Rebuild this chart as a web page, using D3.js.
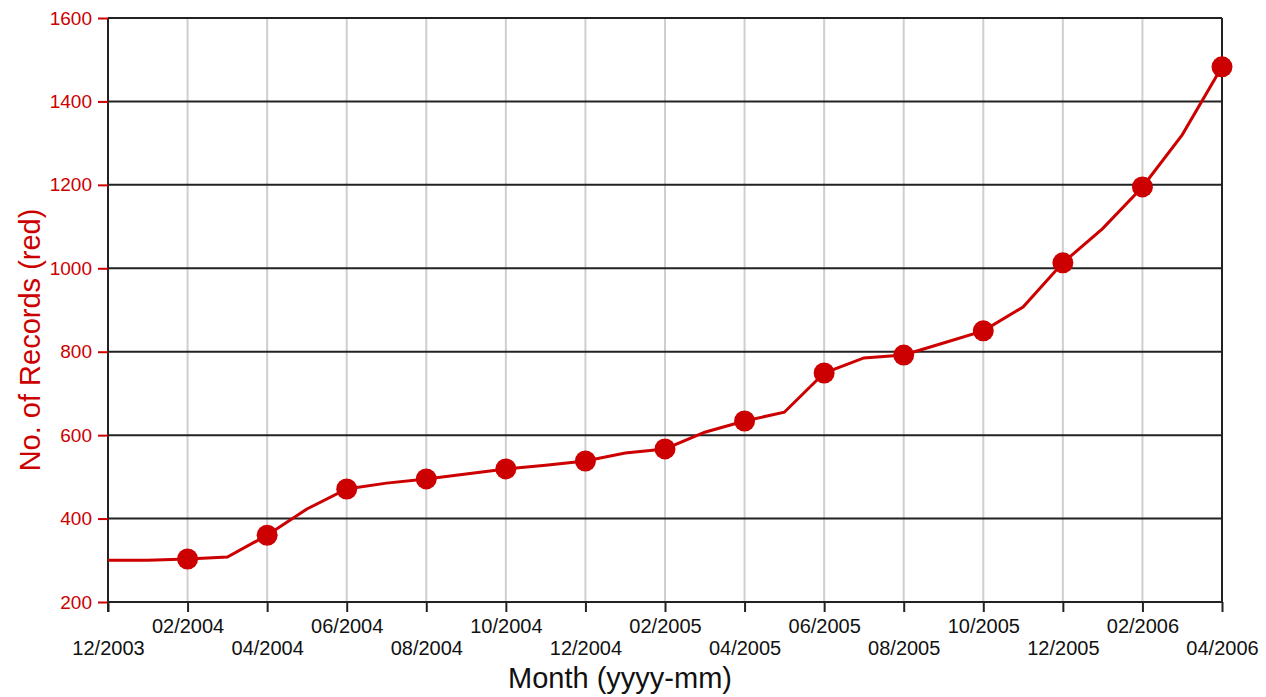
<!DOCTYPE html>
<html><head><meta charset="utf-8">
<script src="https://cdn.jsdelivr.net/npm/d3@7"></script>
<style>
html,body{margin:0;padding:0;background:#fff;}
svg{display:block;font-family:"Liberation Sans",Arial,sans-serif;}
</style></head>
<body><svg id="c" width="1266" height="697"></svg>
<script>
const months = ["12/2003","01/2004","02/2004","03/2004","04/2004","05/2004","06/2004","07/2004","08/2004","09/2004","10/2004","11/2004","12/2004","01/2005","02/2005","03/2005","04/2005","05/2005","06/2005","07/2005","08/2005","09/2005","10/2005","11/2005","12/2005","01/2006","02/2006","03/2006","04/2006"];
const records = [300,300,303,308,360,423,471,485,495,507,519,528,538,557,567,607,634,655,749,785,792,821,850,907,1013,1095,1195,1320,1483];
const yTicks = [200,400,600,800,1000,1200,1400,1600];
const xTickLabels = ["12/2003","02/2004","04/2004","06/2004","08/2004","10/2004","12/2004","02/2005","04/2005","06/2005","08/2005","10/2005","12/2005","02/2006","04/2006"];

const red = "#cc0000";
const L = 108, R = 1222, T = 18, B = 602;
const svg = d3.select("#c");
const x = d3.scaleLinear().domain([0, months.length - 1]).range([L, R]);
const y = d3.scaleLinear().domain([200, 1600]).range([B, T]);
const tickIdx = xTickLabels.map(l => months.indexOf(l));

// vertical grid
svg.append("g").selectAll("line").data(tickIdx.slice(1, -1)).join("line")
  .attr("x1", d => x(d)).attr("x2", d => x(d)).attr("y1", T).attr("y2", B)
  .attr("stroke", "#cfcfcf").attr("stroke-width", 2);
// horizontal grid
svg.append("g").selectAll("line").data(yTicks.slice(1)).join("line")
  .attr("x1", L).attr("x2", R).attr("y1", d => y(d)).attr("y2", d => y(d))
  .attr("stroke", "#222").attr("stroke-width", 2);
// frame
svg.append("line").attr("x1", R).attr("x2", R).attr("y1", T).attr("y2", B).attr("stroke", "#222").attr("stroke-width", 2);

// y axis
const yAxis = svg.append("g").attr("transform", `translate(${L},0)`)
  .call(d3.axisLeft(y).tickValues(yTicks).tickSize(10).tickPadding(6).tickFormat(d3.format("d")));
yAxis.attr("font-size", null).attr("font-family", null);
yAxis.select(".domain").attr("stroke", "#222").attr("stroke-width", 2).attr("d", `M0,${B+10}V${T}`);
yAxis.selectAll(".tick line").attr("stroke", red).attr("stroke-width", 2);
yAxis.selectAll(".tick text").attr("fill", red).style("font-size", "19px").style("font-family", "Liberation Sans, Arial, sans-serif");

// x axis
const xAxis = svg.append("g").attr("transform", `translate(0,${B})`)
  .call(d3.axisBottom(x).tickValues(tickIdx).tickSize(10).tickPadding(0).tickFormat((d) => months[d]));
xAxis.attr("font-size", null).attr("font-family", null);
xAxis.select(".domain").attr("stroke", "#222").attr("stroke-width", 2).attr("d", `M${L},0H${R}`);
xAxis.selectAll(".tick line").attr("stroke", "#222").attr("stroke-width", 2);
xAxis.selectAll(".tick text").attr("fill", "#111").style("font-size", "20px")
  .style("font-family", "Liberation Sans, Arial, sans-serif")
  .attr("dy", null)
  .attr("y", (d, i) => i % 2 === 1 ? 31 : 53);

// line
svg.append("path").datum(records)
  .attr("fill", "none").attr("stroke", red).attr("stroke-width", 3)
  .attr("d", d3.line().x((d, i) => x(i)).y(d => y(d)));

// markers
const markIdx = tickIdx.slice(1);
svg.append("g").selectAll("circle").data(markIdx).join("circle")
  .attr("cx", d => x(d)).attr("cy", d => y(records[d])).attr("r", 10.5).attr("fill", red);

// titles
svg.append("text").attr("x", 620).attr("y", 688).attr("text-anchor", "middle")
  .style("font-size", "29px").attr("fill", "#111").text("Month (yyyy-mm)");
svg.append("text").attr("transform", `translate(40,340) rotate(-90)`)
  .attr("text-anchor", "middle").style("font-size", "29px").attr("fill", red).text("No. of Records (red)");
</script></body></html>
